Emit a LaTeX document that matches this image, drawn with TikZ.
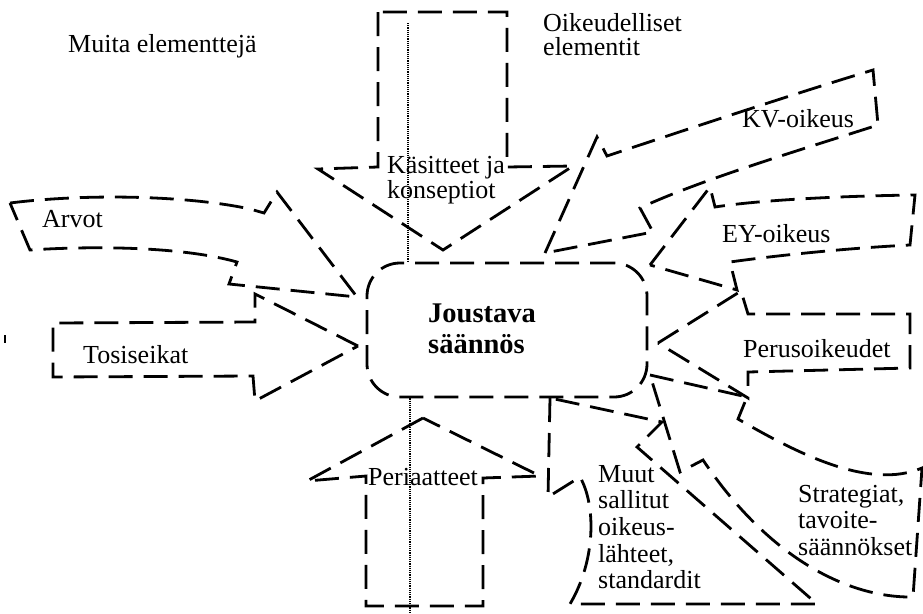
\documentclass[tikz,border=0pt]{standalone}
\usepackage{fontspec}
\setmainfont{Liberation Serif}
\begin{document}
\begin{tikzpicture}[x=1pt,y=-1pt,
  outline/.style={line width=2.8pt, dash pattern=on 24pt off 11pt, line join=miter},
  guide/.style={line width=1.1pt, dash pattern=on 1.1pt off 1.1pt},
  lbl/.style={inner sep=0pt, anchor=base west, font=\fontsize{26}{26.5}\selectfont},
  corelbl/.style={inner sep=0pt, anchor=base west, font=\bfseries\fontsize{28.5}{31}\selectfont},
  corebox/.style={outline, rounded corners=33pt, minimum width=280pt, minimum height=134pt, inner sep=0pt}
]
\useasboundingbox (0,0) rectangle (923,613);

% dotted vertical axis through the centre
\coordinate (axtop) at (408,23);
\coordinate (axbot) at (410,613);

% central element
\node[corebox, draw] (core) at (507,330) {};
\draw[guide] (axtop) -- (axtop |- core.north);
\draw[guide] (axbot |- core.south) -- (axbot);
\node[corelbl] (core1) at (428,322) {Joustava};
\node[corelbl] (core2) at (428,353) {säännös};

% concepts (from above)
\draw[outline] (378,12) -- (378,167) -- (318,169) -- (443,250) -- (573,166) -- (507,167) -- (507,12) -- cycle;
\node[lbl] (kas1) at (387,173) {Käsitteet ja};
\node[lbl] (kas2) at (387,198) {konseptiot};

% principles (from below)
\draw[outline] (423,418) -- (307,481) -- (366,476) -- (366,606) -- (483,606) -- (483,478) -- (540,476) -- cycle;
\node[lbl] (per) at (368,485) {Periaatteet};

% values
\draw[outline] (10,203) .. controls (90,193) and (190,196) .. (250,209) -- (264,213) -- (277,192) -- (357,297)
  -- (229,284) -- (237,262) .. controls (180,246) and (90,246) .. (30,250) -- cycle;
\node[lbl] (arv) at (42,227) {Arvot};

% facts
\draw[outline] (358,346) -- (255,294) -- (255,322) -- (53,323) -- (53,377) -- (253,376) -- (255,401) -- cycle;
\node[lbl] (tos) at (83,363) {Tosiseikat};

% international law
\draw[outline] (545,253) -- (597,137) -- (607,156) .. controls (700,125) and (800,92) .. (873,70)
  -- (878,125) .. controls (800,150) and (700,180) .. (640,208) -- (653,232) -- cycle;
\node[lbl] (kv) at (742,127) {KV-oikeus};

% EC law
\draw[outline] (650,265) -- (710,187) -- (715,207) .. controls (760,200) and (840,196) .. (915,195)
  -- (910,245) .. controls (850,248) and (780,255) .. (730,262) -- (737,290) -- cycle;
\node[lbl] (ey) at (722,242) {EY-oikeus};

% fundamental rights
\draw[outline] (658,343) -- (741,291) -- (748,314) -- (910,314) -- (910,368) -- (748,372) -- (748,398) -- cycle;
\node[lbl] (pos) at (743,357) {Perusoikeudet};

% strategies
\draw[outline] (650,375) -- (747,397) -- (738,419) .. controls (800,455) and (870,490) .. (922,468)
  -- (913,597) .. controls (850,598) and (770,560) .. (703,460) -- (680,472) -- cycle;
\node[lbl] (str1) at (798,502) {Strategiat,};
\node[lbl] (str2) at (798,528) {tavoite-};
\node[lbl] (str3) at (798,555) {säännökset};

% other permitted sources
\draw[outline] (550,398) -- (548,497) -- (580,477) .. controls (596,505) and (596,560) .. (570,604)
  -- (817,604) -- (637,447) -- (662,422) -- cycle;
\node[lbl] (muu1) at (598,482) {Muut};
\node[lbl] (muu2) at (598,508) {sallitut};
\node[lbl] (muu3) at (598,535) {oikeus-};
\node[lbl] (muu4) at (598,562) {lähteet,};
\node[lbl] (muu5) at (598,588) {standardit};

% group headings
\node[lbl] (muita) at (68,52) {Muita elementtejä};
\node[lbl] (oik1) at (543,31) {Oikeudelliset};
\node[lbl] (oik2) at (543,55) {elementit};

% stray mark at the left margin
\draw[line width=1.4pt] (5,335) -- (5,343);
\end{tikzpicture}
\end{document}
